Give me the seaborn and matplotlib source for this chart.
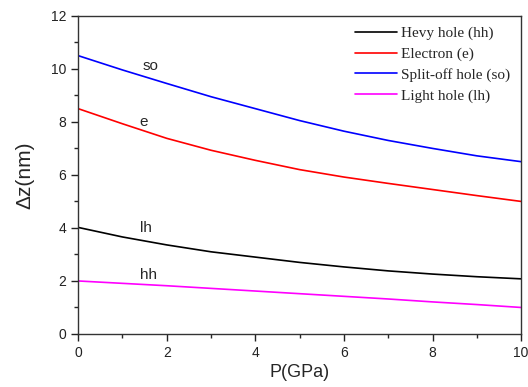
import numpy as np
import pandas as pd
import matplotlib
matplotlib.use("Agg")
import matplotlib.pyplot as plt
from matplotlib.ticker import MultipleLocator
import seaborn as sns

# pressure (GPa) and width values
pressure = [0, 1, 2, 3, 4, 5, 6, 7, 8, 9, 10]
hevy_hole = [4.02, 3.66, 3.36, 3.10, 2.90, 2.70, 2.53, 2.38, 2.26, 2.16, 2.08]
electron = [8.50, 7.93, 7.38, 6.93, 6.55, 6.20, 5.92, 5.68, 5.45, 5.22, 5.00]
split_off = [10.50, 9.96, 9.45, 8.95, 8.50, 8.05, 7.65, 7.30, 7.00, 6.72, 6.50]
light_hole = [2.00, 1.91, 1.82, 1.72, 1.62, 1.52, 1.42, 1.32, 1.21, 1.11, 1.00]

series_names = ["Hevy hole (hh)", "Electron (e)", "Split-off hole (so)", "Light hole (lh)"]
series_colors = ["black", "red", "blue", "magenta"]

df = pd.DataFrame({
    "P": pressure * 4,
    "dz": hevy_hole + electron + split_off + light_hole,
    "series": sum([[n] * len(pressure) for n in series_names], []),
})

sns.set_style("ticks")
plt.rcParams["font.family"] = ["Liberation Sans", "DejaVu Sans"]

fig = plt.figure(figsize=(5.28, 3.87), dpi=100)
ax = fig.add_axes([0.148, 0.137, 0.839, 0.822])

sns.lineplot(data=df, x="P", y="dz", hue="series", hue_order=series_names,
             palette=series_colors, linewidth=1.2, ax=ax)

# curve labels
ax.text(1.63, 10.1, "so", ha="center", va="center", fontsize=11)
ax.text(1.47, 8.0, "e", ha="center", va="center", fontsize=11)
ax.text(1.53, 4.0, "lh", ha="center", va="center", fontsize=11)
ax.text(1.58, 2.23, "hh", ha="center", va="center", fontsize=11)

ax.set_xlim(0, 10)
ax.set_ylim(0, 12)
ax.xaxis.set_major_locator(MultipleLocator(2))
ax.xaxis.set_minor_locator(MultipleLocator(1))
ax.yaxis.set_major_locator(MultipleLocator(2))
ax.yaxis.set_minor_locator(MultipleLocator(1))
ax.tick_params(which="major", direction="out", length=5, width=1, labelsize=10, colors="#222222")
ax.tick_params(which="minor", direction="out", length=3, width=1)
for s in ax.spines.values():
    s.set_visible(True)
    s.set_color("#333333")
    s.set_linewidth(1.0)

ax.set_xlabel("P(GPa)", fontsize=13, labelpad=3)
ax.set_ylabel("Δz(nm)", fontsize=15, labelpad=12)

leg = ax.legend(loc="upper right", frameon=False, handlelength=2.75, handletextpad=0.3,
                labelspacing=0.45, borderaxespad=0.3,
                prop={"family": "Liberation Serif", "size": 11})

fig.savefig("out.png", dpi=100)
